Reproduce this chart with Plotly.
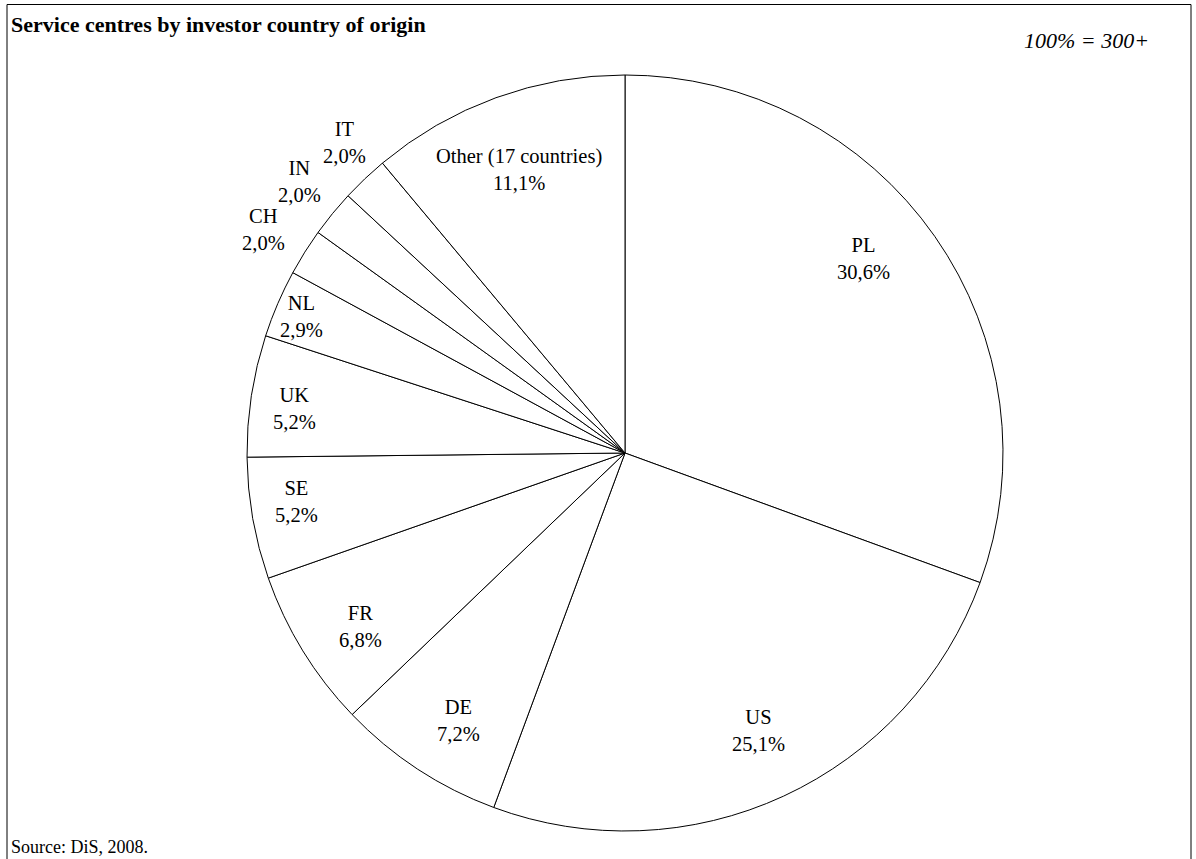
import math
import plotly.graph_objects as go

# Share of service centres by investor country of origin (%)
countries = ["PL", "US", "DE", "FR", "SE", "UK", "NL", "CH", "IN", "IT", "Other (17 countries)"]
shares = [30.6, 25.1, 7.2, 6.8, 5.2, 5.2, 2.9, 2.0, 2.0, 2.0, 11.1]

W, H = 1196, 859
cx, cy, r = 625, 453, 378  # pie centre and radius in pixels

# label placement: distance from centre (fraction of radius) and small angular nudge (degrees)
label_radius = [0.815, 0.815, 0.834, 0.837, 0.879, 0.881, 0.929, 1.124, 1.121, 1.108, 0.800]
label_nudge = [-4.2, -0.9, -1.3, -1.8, 1.6, -1.1, -0.5, -0.3, 0.5, 1.4, -0.5]

fig = go.Figure(go.Pie(
    labels=countries,
    values=shares,
    sort=False,
    direction="clockwise",
    rotation=0,
    marker=dict(colors=["white"] * len(countries), line=dict(color="black", width=1)),
    textinfo="none",
    hoverinfo="label+value",
    showlegend=False,
    domain=dict(x=[(cx - r) / W, (cx + r) / W], y=[(H - cy - r) / H, (H - cy + r) / H]),
))

# slice labels placed around each slice's bisector
total = sum(shares)
cum = 0.0
annotations = []
for name, val, fr, nudge in zip(countries, shares, label_radius, label_nudge):
    mid = (cum + val / 2) / total * 2 * math.pi + math.radians(nudge)
    cum += val
    px = cx + fr * r * math.sin(mid)
    py = cy - fr * r * math.cos(mid)
    annotations.append(dict(
        text=f"{name}<br>{val:.1f}%".replace(".", ","),
        x=px / W, y=1 - py / H, xref="paper", yref="paper",
        xanchor="center", yanchor="middle", showarrow=False, align="center",
        font=dict(family="Liberation Serif", size=20.5, color="black"),
    ))

annotations += [
    dict(text="<b>Service centres by investor country of origin</b>", x=9 / W, y=1 - 25 / H,
         xref="paper", yref="paper", xanchor="left", yanchor="middle", showarrow=False,
         font=dict(family="Liberation Serif", size=22, color="black")),
    dict(text="<i>100% = 300+</i>", x=1151 / W, y=1 - 40 / H,
         xref="paper", yref="paper", xanchor="right", yanchor="middle", showarrow=False,
         font=dict(family="Liberation Serif", size=22, color="black")),
    dict(text="Source: DiS, 2008.", x=9 / W, y=1 - 847 / H,
         xref="paper", yref="paper", xanchor="left", yanchor="middle", showarrow=False,
         font=dict(family="Liberation Serif", size=18, color="black")),
]

fig.update_layout(
    width=W, height=H,
    margin=dict(l=0, r=0, t=0, b=0),
    paper_bgcolor="white",
    plot_bgcolor="white",
    font=dict(family="Liberation Serif", color="black"),
    shapes=[dict(type="rect", xref="paper", yref="paper",
                 x0=7 / W, x1=1191 / W, y0=-0.02, y1=1 - 4.5 / H,
                 line=dict(color="black", width=1), fillcolor="rgba(0,0,0,0)")],
    annotations=annotations,
)

fig.write_html("out.html")
